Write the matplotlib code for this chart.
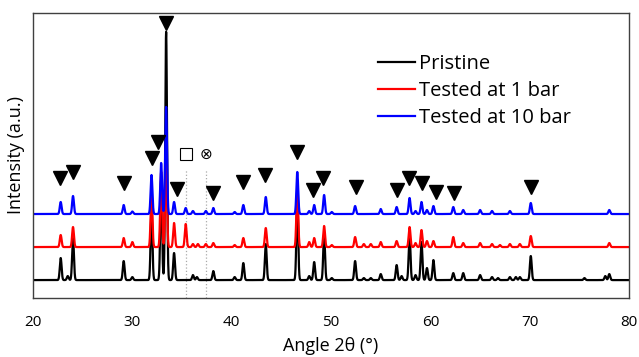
import numpy as np
import matplotlib.pyplot as plt

plt.rcParams['font.family'] = ['Open Sans', 'DejaVu Sans']

# peak positions (2theta) and heights
pristine_pos = [22.79, 23.5, 24.03, 29.13, 30.0, 31.93, 32.9, 33.4, 34.2, 36.1, 36.5, 38.15,
                40.3, 41.17, 43.43, 46.6, 47.8, 48.3, 49.3, 50.07, 52.42, 53.3, 54.0, 55.0,
                56.6, 57.1, 57.9, 58.5, 59.1, 59.65, 60.3, 62.3, 63.3, 65.0, 66.2, 66.8,
                68.0, 68.6, 69.0, 70.1, 75.5, 77.6, 78.0]
pristine_h = [22, 4, 42, 19, 3, 70, 100, 248, 27, 5, 3, 9,
              3, 17, 36, 80, 4, 18, 45, 2, 19, 2, 2, 6,
              15, 4, 45, 5, 38, 12, 20, 7, 7, 5, 3, 2,
              3, 3, 3, 24, 2, 4, 6]

bar1_pos = [22.79, 24.03, 29.13, 30.0, 31.93, 32.9, 33.4, 34.2, 35.37, 36.1, 36.6, 37.4,
            38.15, 40.3, 41.17, 43.43, 46.6, 47.8, 48.3, 49.3, 50.07, 52.42, 53.3, 54.0,
            55.0, 56.6, 57.9, 58.5, 59.1, 59.65, 60.3, 62.3, 63.3, 65.0, 66.2, 67.0,
            68.0, 69.0, 70.1, 78.0]
bar1_h = [12, 20, 9, 5, 55, 75, 90, 24, 23, 3, 3, 3,
          4, 2, 9, 19, 60, 5, 9, 21, 2, 10, 3, 3,
          5, 6, 20, 4, 17, 6, 6, 10, 4, 4, 3, 2,
          3, 3, 11, 4]

bar10_pos = [22.79, 24.03, 29.13, 30.0, 31.93, 32.9, 33.4, 34.2, 35.37, 36.1, 37.4, 38.15,
             40.3, 41.17, 43.43, 46.6, 47.8, 48.3, 49.3, 50.07, 52.42, 55.0, 56.6, 57.9,
             58.5, 59.1, 59.65, 60.3, 62.3, 63.3, 65.0, 66.2, 68.0, 70.1, 78.0]
bar10_h = [12, 18, 9, 2.5, 39, 51, 107, 12, 6, 3, 3, 6,
           2, 9, 17, 42, 3, 9, 19, 2, 8, 5, 7, 16,
           3, 12, 4, 8, 7, 4, 4, 3, 3, 11, 4]

offsets = [18, 51, 84]

# reference peak markers (triangles) and other phases
tri_x = [22.72, 24.0, 29.16, 31.95, 32.6, 33.36, 34.47, 38.15, 41.17, 43.36, 46.55,
         48.22, 49.23, 52.49, 56.6, 57.88, 59.19, 60.57, 62.4, 70.1]
tri_y = [120, 126, 115, 140, 156, 275, 109, 105, 116, 123, 146,
         108, 120, 111, 108, 120, 115, 106, 105, 111]
square_x, cross_x, phase_y = 35.37, 37.39, 144


def pattern(x, pos, h, base):
    y = np.full_like(x, base, dtype=float)
    for p, a in zip(pos, h):
        y += a * np.exp(-0.5 * ((x - p) / 0.09) ** 2)
    return y


x = np.arange(20, 80.001, 0.01)

fig = plt.figure(figsize=(6.39, 3.57), dpi=100)
ax = fig.add_axes([0.0516, 0.165, 0.933, 0.799])

ax.vlines([square_x, cross_x], 0, 128, colors='#aaaaaa', linestyles=':', lw=0.9)

ax.plot(x, pattern(x, pristine_pos, pristine_h, offsets[0]), color='black', lw=1.6, label='Pristine')
ax.plot(x, pattern(x, bar1_pos, bar1_h, offsets[1]), color='red', lw=1.6, label='Tested at 1 bar')
ax.plot(x, pattern(x, bar10_pos, bar10_h, offsets[2]), color='blue', lw=1.6, label='Tested at 10 bar')

ax.plot(tri_x, tri_y, linestyle='none', marker='v', color='black', markersize=10.5)
ax.plot([square_x], [phase_y], linestyle='none', marker='s', mfc='white', mec='black',
        markersize=8, mew=0.8)
ax.text(cross_x, phase_y, '⊗', ha='center', va='center', fontsize=11, family='DejaVu Sans')

ax.set_xlim(20, 80)
ax.set_ylim(0, 285)
ax.set_yticks([])
ax.set_xticks(range(20, 81, 10))
ax.tick_params(axis='x', length=0, pad=12, labelsize=11)
for s in ax.spines.values():
    s.set_color('#404040')
    s.set_linewidth(1)

ax.set_xlabel('Angle 2θ (°)', fontsize=13, labelpad=5)
ax.set_ylabel('Intensity (a.u.)', fontsize=13, labelpad=6)

ax.legend(loc='upper left', bbox_to_anchor=(0.579, 0.855), frameon=False, fontsize=14.5,
          handlelength=1.85, handletextpad=0.2, labelspacing=0.35, borderpad=0,
          borderaxespad=0)

fig.savefig('out.png', dpi=100)
